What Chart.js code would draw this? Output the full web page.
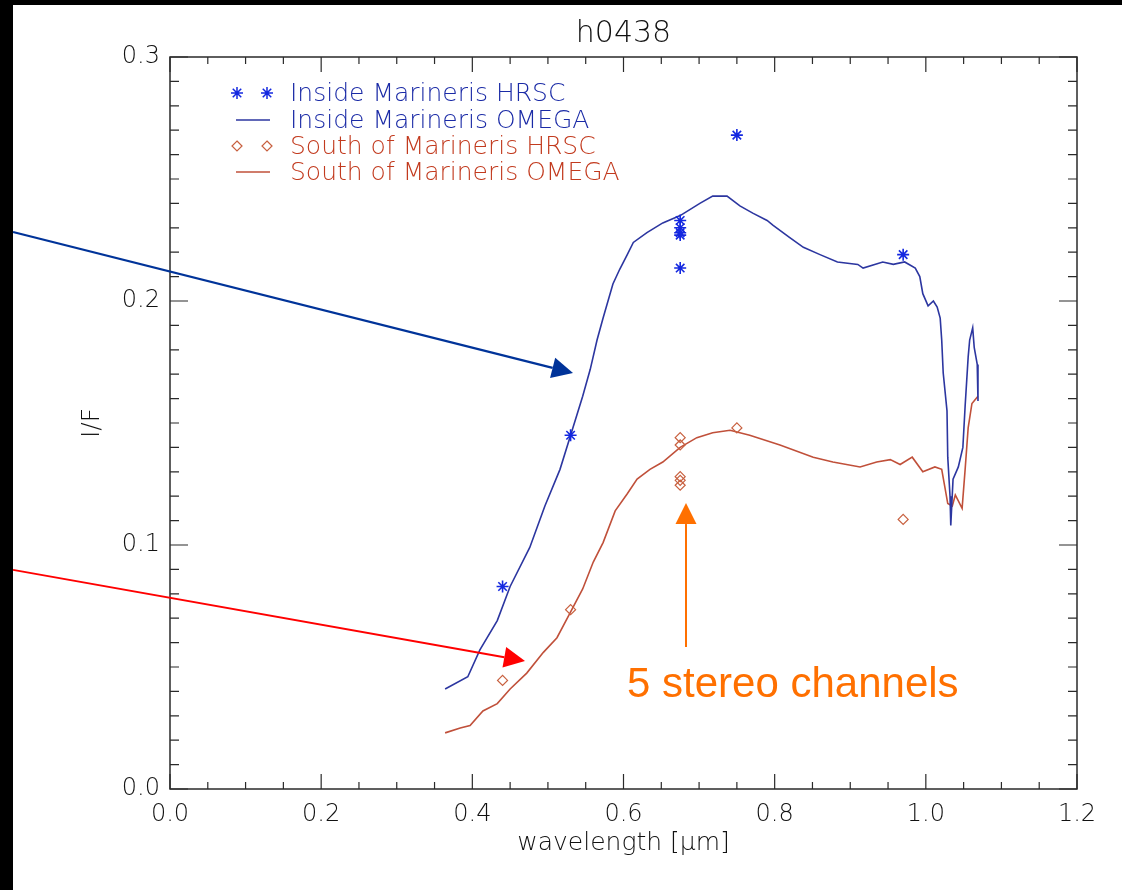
<!DOCTYPE html>
<html>
<head>
<meta charset="utf-8">
<script src="https://cdn.jsdelivr.net/npm/chart.js@4/dist/chart.umd.min.js"></script>
<style>
html,body{margin:0;padding:0;background:#000;}
canvas{display:block;}
</style>
</head>
<body>
<canvas id="c" width="1122" height="890"></canvas>
<script>
// HRSC channel wavelengths (um)
const hrscInsideX = [0.44, 0.53, 0.675, 0.675, 0.675, 0.675, 0.675, 0.75, 0.97];
const hrscInsideY = [0.083, 0.145, 0.233, 0.230, 0.228, 0.227, 0.2135, 0.268, 0.219];
const hrscSouthX = [0.44, 0.53, 0.675, 0.675, 0.675, 0.675, 0.675, 0.75, 0.97];
const hrscSouthY = [0.0445, 0.0735, 0.144, 0.141, 0.128, 0.1265, 0.1245, 0.148, 0.1105];

// OMEGA spectra
const omegaInsideX = [0.364,0.394,0.410,0.433,0.450,0.476,0.496,0.516,0.529,0.546,0.556,0.565,0.573,0.586,0.595,0.605,0.613,0.631,0.652,0.675,0.701,0.718,0.737,0.754,0.771,0.790,0.798,0.820,0.838,0.860,0.883,0.910,0.917,0.943,0.957,0.972,0.986,0.992,0.996,1.003,1.010,1.015,1.019,1.021,1.023,1.028,1.029,1.032,1.033,1.036,1.043,1.049,1.052,1.056,1.058,1.062,1.064,1.068,1.069];
const omegaInsideY = [0.041,0.046,0.057,0.069,0.083,0.099,0.116,0.131,0.144,0.161,0.172,0.184,0.193,0.207,0.213,0.219,0.224,0.228,0.232,0.235,0.240,0.243,0.243,0.239,0.236,0.233,0.231,0.226,0.222,0.219,0.216,0.215,0.2135,0.216,0.215,0.216,0.2135,0.210,0.203,0.198,0.200,0.1975,0.193,0.184,0.1705,0.155,0.136,0.120,0.108,0.127,0.132,0.140,0.157,0.177,0.184,0.189,0.181,0.174,0.159];
const omegaSouthX = [0.364,0.384,0.397,0.414,0.433,0.450,0.472,0.494,0.512,0.529,0.546,0.560,0.573,0.589,0.605,0.618,0.635,0.652,0.675,0.697,0.718,0.741,0.767,0.807,0.851,0.877,0.913,0.935,0.953,0.966,0.982,0.996,1.012,1.021,1.025,1.029,1.035,1.039,1.048,1.052,1.056,1.061,1.069];
const omegaSouthY = [0.023,0.025,0.026,0.032,0.035,0.041,0.0475,0.056,0.062,0.072,0.082,0.093,0.101,0.114,0.121,0.127,0.131,0.134,0.140,0.144,0.146,0.147,0.145,0.141,0.136,0.134,0.132,0.134,0.135,0.133,0.136,0.130,0.132,0.131,0.124,0.117,0.116,0.1205,0.115,0.131,0.148,0.158,0.161];

const xTickLabels = ['0.0','0.2','0.4','0.6','0.8','1.0','1.2'];
const yTickLabels = ['0.0','0.1','0.2','0.3'];

const seriesNames = ['Inside Marineris HRSC','Inside Marineris OMEGA','South of Marineris HRSC','South of Marineris OMEGA'];

function pts(xs, ys){
	let out = [];
	for(let i=0;i<xs.length;i++) out.push({x:xs[i], y:ys[i]});
	return out;
}

const FONT = 'DejaVu Sans';
const FW = '200';
const INK = '#111';

// frame with inward ticks on all four sides
const framePlugin = {
	id:'frame',
	beforeDraw(chart){
		const c = chart.ctx;
		c.save();
		c.fillStyle = '#000';
		c.fillRect(0,0,chart.width,chart.height);
		c.fillStyle = '#fff';
		c.fillRect(13,5,chart.width-13,chart.height-5);
		c.restore();
	},
	afterDatasetsDraw(chart){
		const c = chart.ctx, a = chart.chartArea;
		const xs = chart.scales.x, ys = chart.scales.y;
		c.save();
		c.strokeStyle = '#2a2a2a';
		c.lineWidth = 1.5;
		c.strokeRect(a.left, a.top, a.right-a.left, a.bottom-a.top);
		c.lineWidth = 1.2;
		c.beginPath();
		for(let i=0;i<=24;i++){
			let px = xs.getPixelForValue(i*0.05);
			let len = (i%4==0) ? 15 : 7;
			c.moveTo(px,a.bottom); c.lineTo(px,a.bottom-len);
			c.moveTo(px,a.top); c.lineTo(px,a.top+len);
		}
		for(let i=0;i<=30;i++){
			let py = ys.getPixelForValue(i*0.01);
			let len = (i%10==0) ? 18 : 9;
			c.moveTo(a.left,py); c.lineTo(a.left+len,py);
			c.moveTo(a.right,py); c.lineTo(a.right-len,py);
		}
		c.stroke();
		c.restore();
	}
};

function drawStar(c, x, y, r){
	c.beginPath();
	for(let k=0;k<4;k++){
		let ang = k*Math.PI/4;
		c.moveTo(x-Math.sin(ang)*r, y-Math.cos(ang)*r);
		c.lineTo(x+Math.sin(ang)*r, y+Math.cos(ang)*r);
	}
	c.stroke();
}
function drawDiamond(c, x, y, r){
	c.beginPath();
	c.moveTo(x,y-r); c.lineTo(x+r,y); c.lineTo(x,y+r); c.lineTo(x-r,y); c.closePath();
	c.stroke();
}

const legendPlugin = {
	id:'idlLegend',
	afterDraw(chart){
		const c = chart.ctx;
		const ds = chart.data.datasets;
		const rows = [93,120,146,172];
		const textColors = ['#1a2aa6','#1a2aa6','#c23a1e','#c23a1e'];
		c.save();
		c.font = FW+' 25px "'+FONT+'"';
		c.textBaseline = 'middle';
		for(let i=0;i<ds.length;i++){
			let y = rows[i];
			c.strokeStyle = ds[i].borderColor;
			c.lineWidth = 1.5;
			if(ds[i].showLine){
				c.beginPath(); c.moveTo(236,y); c.lineTo(270,y); c.stroke();
			}else if(ds[i].pointStyle=='star'){
				drawStar(c,237,y,6); drawStar(c,267,y,6);
			}else{
				c.lineWidth = 1.2;
				drawDiamond(c,237,y,5); drawDiamond(c,267,y,5);
			}
			c.fillStyle = textColors[i];
			c.fillText(ds[i].label, 290, y+1);
		}
		c.restore();
	}
};

// arrows and the stereo note, placed in data units
const arrowNotes = [
	{x0:-0.2077, y0:0.2283, x1:0.5332, y1:0.1705, color:'#003399', width:2.2},
	{x0:-0.2077, y0:0.0898, x1:0.4697, y1:0.0525, color:'#ff0000', width:2},
	{x0:0.6827, y0:0.0582, x1:0.6827, y1:0.1172, color:'#ff7000', width:2}
];
const noteText = {x:0.6047, y:0.0377, text:'5 stereo channels', color:'#ff7000'};

const notePlugin = {
	id:'notes',
	afterDraw(chart){
		const c = chart.ctx, xs = chart.scales.x, ys = chart.scales.y;
		c.save();
		arrowNotes.forEach(n=>{
			let ax = xs.getPixelForValue(n.x0), ay = ys.getPixelForValue(n.y0);
			let bx = xs.getPixelForValue(n.x1), by = ys.getPixelForValue(n.y1);
			ax = Math.max(ax,13);
			let ang = Math.atan2(by-ay, bx-ax);
			let hl = 21, hw = 10.5;
			let baseX = bx - Math.cos(ang)*hl, baseY = by - Math.sin(ang)*hl;
			c.strokeStyle = n.color; c.fillStyle = n.color; c.lineWidth = n.width;
			c.beginPath(); c.moveTo(ax,ay); c.lineTo(baseX,baseY); c.stroke();
			c.beginPath();
			c.moveTo(bx,by);
			c.lineTo(baseX - Math.sin(ang)*hw, baseY + Math.cos(ang)*hw);
			c.lineTo(baseX + Math.sin(ang)*hw, baseY - Math.cos(ang)*hw);
			c.closePath(); c.fill();
		});
		c.font = '42px "Liberation Sans", Arial, sans-serif';
		c.fillStyle = noteText.color;
		c.textBaseline = 'alphabetic';
		c.fillText(noteText.text, xs.getPixelForValue(noteText.x), ys.getPixelForValue(noteText.y));
		c.restore();
	}
};

const ctx = document.getElementById('c').getContext('2d');
const chart = new Chart(ctx, {
	type:'scatter',
	data:{
		datasets:[
			{label:seriesNames[0], data:pts(hrscInsideX,hrscInsideY), showLine:false, pointStyle:'star', pointRadius:6, borderColor:'#1428e0', backgroundColor:'#1428e0', borderWidth:1.6, order:1},
			{label:seriesNames[1], data:pts(omegaInsideX,omegaInsideY), showLine:true, pointRadius:0, borderColor:'#2c36a0', borderWidth:1.6, tension:0, order:3},
			{label:seriesNames[2], data:pts(hrscSouthX,hrscSouthY), showLine:false, pointStyle:'rectRot', pointRadius:5, borderColor:'#c8603f', backgroundColor:'rgba(255,255,255,0)', borderWidth:1.2, order:2},
			{label:seriesNames[3], data:pts(omegaSouthX,omegaSouthY), showLine:true, pointRadius:0, borderColor:'#c0503a', borderWidth:1.6, tension:0, order:4}
		]
	},
	options:{
		responsive:false,
		animation:false,
		devicePixelRatio:1,
		events:[],
		layout:{padding:{left:0,right:45,top:0,bottom:0}},
		plugins:{
			legend:{display:false},
			tooltip:{enabled:false},
			title:{display:true, text:'h0438', fullSize:false, color:INK, font:{family:FONT, size:30, weight:FW}, padding:{top:16,bottom:5}}
		},
		scales:{
			x:{
				type:'linear', min:0, max:1.2,
				afterFit(s){ s.height = 101; },
				grid:{display:false, drawTicks:false},
				border:{display:false},
				ticks:{stepSize:0.2, autoSkip:false, maxRotation:0, padding:11, color:INK, font:{family:FONT,size:24,weight:FW},
					callback:(v,i)=>xTickLabels[i]},
				title:{display:true, text:'wavelength [\u03bcm]', color:INK, font:{family:FONT,size:25,weight:FW}, padding:{top:0,bottom:32}}
			},
			y:{
				type:'linear', min:0, max:0.3,
				afterFit(s){ s.width = 170; },
				grid:{display:false, drawTicks:false},
				border:{display:false},
				ticks:{stepSize:0.1, autoSkip:false, padding:10, color:INK, font:{family:FONT,size:24,weight:FW},
					callback:(v,i)=>yTickLabels[i]},
				title:{display:true, text:'I/F', color:INK, font:{family:FONT,size:25,weight:FW}, padding:{top:77,bottom:0}}
			}
		}
	},
	plugins:[framePlugin, legendPlugin, notePlugin]
});
</script>
</body>
</html>
